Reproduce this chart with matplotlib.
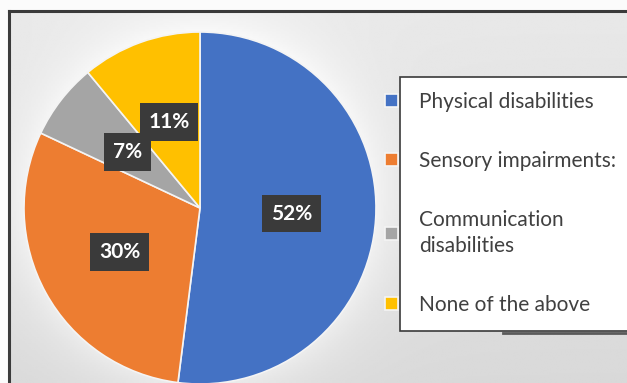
import numpy as np
import matplotlib
matplotlib.use("Agg")
import matplotlib.pyplot as plt
from matplotlib.patches import Rectangle
from matplotlib.lines import Line2D

categories = ["Physical disabilities", "Sensory impairments:",
              "Communication\ndisabilities", "None of the above"]
shares = [52, 30, 7, 11]
colors = ["#4472C4", "#ED7D31", "#A5A5A5", "#FFC000"]

W, H = 627, 383
fig = plt.figure(figsize=(W / 100, H / 100), dpi=100)
fig.patch.set_facecolor("#fbfbfb")

# soft grey panel with a light halo around the pie
bg = fig.add_axes([9 / W, 0, 1 - 9 / W, (H - 11) / H])
bg.set_axis_off()
ny, nx = 200, 330
yy, xx = np.mgrid[0:ny, 0:nx]
px = 9 + xx * (W - 9) / nx
py = 11 + yy * (H - 11) / ny
d = np.hypot(px - 200, py - 207)
base = 0.91 - 0.06 * (py - 11) / (H - 11)
halo = 0.07 * np.exp(-np.clip(d - 176, 0, None) / 30.0)
shade = np.clip(base + halo, 0, 1)
bg.imshow(shade, cmap="gray", vmin=0, vmax=1, aspect="auto",
          extent=(0, 1, 0, 1), origin="upper")
bg.set_xlim(0, 1)
bg.set_ylim(0, 1)

# panel border (top and left)
fig.add_artist(Line2D([9 / W, 9 / W], [0, (H - 11) / H], color="#3a3a3a",
                      lw=2.2, transform=fig.transFigure))
fig.add_artist(Line2D([9 / W, 1], [(H - 11) / H, (H - 11) / H],
                      color="#3a3a3a", lw=2.2, transform=fig.transFigure))

# pie
ax = fig.add_axes([24 / W, -1 / H, 352 / W, 352 / H])
wedges, _, autotexts = ax.pie(
    shares, colors=colors, startangle=90, counterclock=False,
    autopct=lambda p: f"{p:.0f}%", pctdistance=0.52,
    wedgeprops=dict(edgecolor="#f4f4f4", linewidth=1.2),
    textprops=dict(color="white", fontsize=15, fontweight="bold",
                   family="Lato"))
for t in autotexts:
    t.set_bbox(dict(boxstyle="square,pad=0.42", facecolor="#3a3a3a",
                    edgecolor="none"))
ax.set_xlim(-1, 1)
ax.set_ylim(-1, 1)
ax.set_aspect("equal")
ax.set_axis_off()

# legend box with a faint shadow along its lower edge
fig.add_artist(Line2D([503 / W, 1], [(H - 333) / H, (H - 333) / H],
                      color="#5a5a5a", lw=2.0, transform=fig.transFigure,
                      zorder=0.9))
box = Rectangle((400 / W, (H - 331) / H), 240 / W, 254 / H,
                transform=fig.transFigure, facecolor="white",
                edgecolor="#3a3a3a", lw=1.2, zorder=1)
fig.add_artist(box)

leg = fig.legend(wedges, categories, loc="upper left",
                 bbox_to_anchor=(385 / W, (H - 92) / H),
                 frameon=False, borderpad=0, borderaxespad=0,
                 handlelength=0.6, handleheight=0.55, handletextpad=1.05,
                 labelspacing=1.87, prop=dict(family="Lato", size=15))
for t in leg.get_texts():
    t.set_color("#404040")
    t.set_linespacing(1.36)
leg.set_zorder(2)

fig.savefig("out.png", dpi=100)
